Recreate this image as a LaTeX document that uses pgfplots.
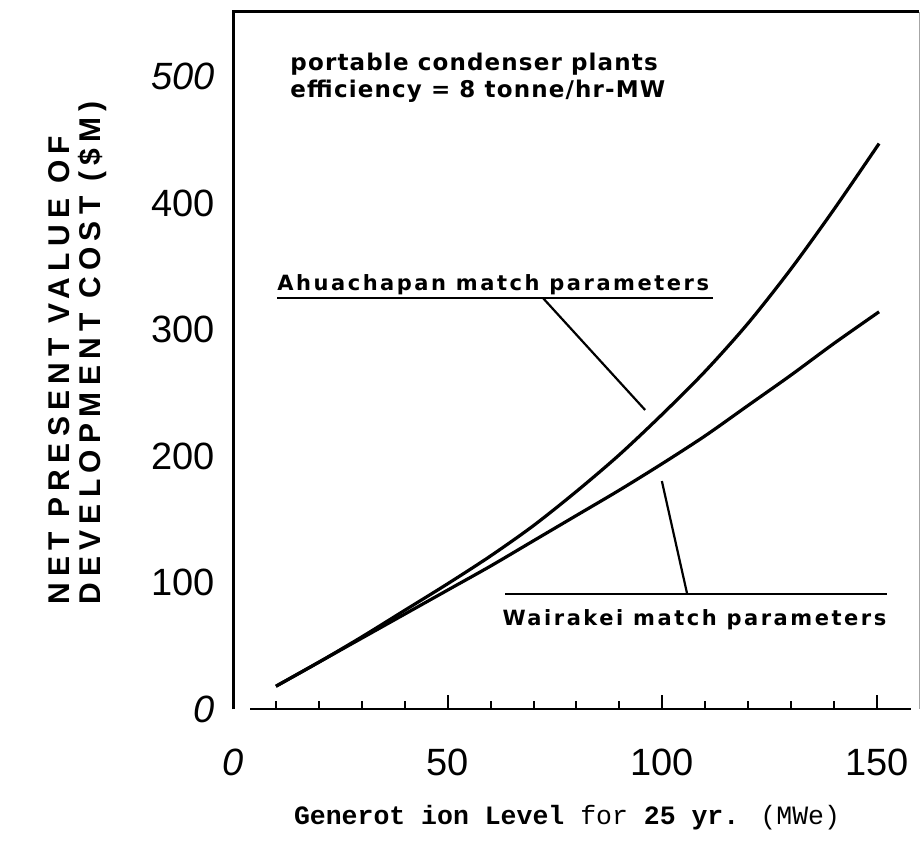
\documentclass[border=0pt]{standalone}
\usepackage{fontspec}
\setmainfont{Liberation Sans}
\newfontfamily\annfont[LetterSpace=12]{DejaVu Sans}
\newfontfamily\topfont[LetterSpace=5]{DejaVu Sans}
\newfontfamily\ylabfont[LetterSpace=21]{Liberation Sans}
\newfontfamily\monofont{Liberation Mono}
\usepackage{pgfplots}
\pgfplotsset{compat=1.18}

\pgfplotstableread{
x y
10 18
20 37
30 57
40 78
50 99
60 121
70 145
80 172
90 201
100 233
110 267
120 305
130 348
140 395
150.5 447
}\ahuachapan

\pgfplotstableread{
x y
10 18
20 37
30 56
40 75
50 94
60 113
70 133
80 153
90 173
100 194
110 216
120 240
130 264
140 289
150.5 314
}\wairakei

\begin{document}
\begin{tikzpicture}
\useasboundingbox (-116.5pt,-66.5pt) rectangle (344pt,354.5pt);
\begin{axis}[
  at={(0pt,0pt)}, anchor=south west,
  scale only axis, width=343pt, height=348.5pt,
  xmin=0, xmax=159.8, ymin=0, ymax=551,
  axis line style={draw=none},
  clip=false,
  xtick={0,50,100,150}, xticklabels={\textit{0},50,100,150},
  minor xtick={10,20,30,40,60,70,80,90,110,120,130,140},
  xtick pos=bottom, tick align=inside,
  major tick length=7pt, minor tick length=4pt,
  every tick/.style={black, line width=1pt},
  ytick={0,100,200,300,400,500}, yticklabels={\textit{0},100,200,300,400,\textit{500}},
  ytick pos=left,
  y tick style={draw=none},
  ticklabel style={font=\fontsize{19}{19}\selectfont},
  yticklabel style={anchor=east, inner sep=0pt, xshift=-9pt},
  xticklabel style={anchor=center, inner sep=0pt, yshift=-26.5pt},
]
\draw[line width=1.5pt] (rel axis cs:0,0) -- (rel axis cs:0,1) -- (rel axis cs:1,1);
\draw[black!35, line width=0.4pt] (rel axis cs:1,1) -- (rel axis cs:1,0);
\draw[line width=1.4pt] (axis cs:4,0) -- (axis cs:158,0);

\addplot[black, line width=1.6pt, smooth] table[x=x,y=y] {\ahuachapan};
\addplot[black, line width=1.6pt, smooth] table[x=x,y=y] {\wairakei};

\node[anchor=base west, inner sep=0pt, font=\topfont\bfseries\fontsize{11.5}{13}\selectfont] at (axis cs:13.3,505.1) {portable condenser plants};
\node[anchor=base west, inner sep=0pt, font=\topfont\bfseries\fontsize{11.5}{13}\selectfont] at (axis cs:13.3,483.8) {efficiency = 8 tonne/hr-MW};

\node[anchor=base west, inner sep=0pt, font=\annfont\bfseries\fontsize{10.5}{12}\selectfont] at (axis cs:10.25,331.2) {Ahuachapan match parameters};
\draw[line width=1.1pt] (axis cs:10.25,324.9) -- (axis cs:111.8,324.9);
\draw[line width=1.1pt] (axis cs:72.2,324.9) -- (axis cs:96.0,236.4);

\node[anchor=base west, inner sep=0pt, font=\annfont\bfseries\fontsize{10.5}{12}\selectfont] at (axis cs:62.7,66.4) {Wairakei match parameters};
\draw[line width=1.1pt] (axis cs:63.4,90.9) -- (axis cs:152.3,90.9);
\draw[line width=1.1pt] (axis cs:105.8,90.9) -- (axis cs:99.9,180.2);
\end{axis}

\node[rotate=90, anchor=base west, inner sep=0pt, font=\ylabfont\bfseries\fontsize{15}{15}\selectfont] at (-81.5pt,52pt) {NET PRESENT VALUE OF};
\node[rotate=90, anchor=base west, inner sep=0pt, font=\ylabfont\bfseries\fontsize{15}{15}\selectfont] at (-66pt,52pt) {DEVELOPMENT COST (\$M)};

\node[anchor=center, inner sep=0pt, font=\monofont\fontsize{13.25}{15}\selectfont] at (167pt,-54.5pt) {\bfseries Generot ion Level\mdseries{} for \bfseries 25 yr.\mdseries{} (MWe)};
\end{tikzpicture}
\end{document}
